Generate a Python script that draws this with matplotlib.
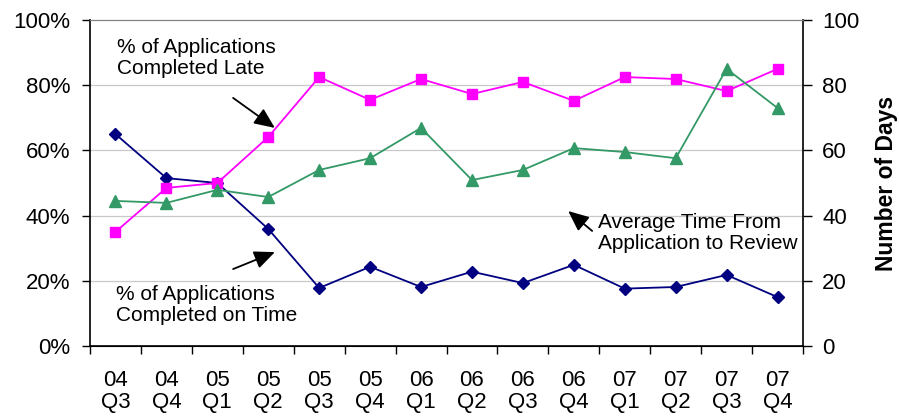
import matplotlib
matplotlib.use("Agg")
import matplotlib.pyplot as plt
from matplotlib.ticker import FixedLocator, NullFormatter

plt.rcParams['font.family'] = ['Liberation Sans', 'DejaVu Sans']

quarters = ["04\nQ3", "04\nQ4", "05\nQ1", "05\nQ2", "05\nQ3", "05\nQ4", "06\nQ1",
            "06\nQ2", "06\nQ3", "06\nQ4", "07\nQ1", "07\nQ2", "07\nQ3", "07\nQ4"]
pct_on_time = [65.0, 51.5, 50.0, 35.9, 17.8, 24.3, 18.1, 22.8, 19.3, 24.9, 17.6, 18.1, 21.8, 15.0]
pct_late = [35.0, 48.5, 50.0, 64.1, 82.5, 75.5, 81.9, 77.3, 81.0, 75.2, 82.5, 81.9, 78.2, 85.0]
avg_days = [44.5, 43.9, 47.9, 45.7, 54.0, 57.6, 66.9, 50.9, 54.0, 60.7, 59.5, 57.6, 85.0, 73.0]

fig = plt.figure(figsize=(8.99, 4.16), dpi=100)
ax = fig.add_axes([90/899, 1 - 346/416, 713/899, 326/416])
ax2 = ax.twinx()

x = list(range(len(quarters)))
ax.plot(x, pct_on_time, color="#000080", marker="D", markersize=6.5, lw=1.3, zorder=3)
ax.plot(x, pct_late, color="#FF00FF", marker="s", markersize=7.5, lw=1.3, zorder=3)
ax2.plot(x, avg_days, color="#339966", marker="^", markersize=9, lw=1.3, zorder=3)

ax.set_xlim(-0.5, len(quarters) - 0.5)
ax.set_ylim(0, 100)
ax2.set_ylim(0, 100)

ticks = [0, 20, 40, 60, 80, 100]
ax.set_yticks(ticks)
ax.set_yticklabels([f"{v}%" for v in ticks], fontsize=16)
ax2.set_yticks(ticks)
ax2.set_yticklabels([str(v) for v in ticks], fontsize=16)
ax2.set_ylabel("Number of Days", fontsize=16.5, fontweight="bold", labelpad=11)

ax.xaxis.set_major_locator(FixedLocator([i - 0.5 for i in range(len(quarters) + 1)]))
ax.xaxis.set_major_formatter(NullFormatter())
ax.xaxis.set_minor_locator(FixedLocator(x))
ax.set_xticklabels(quarters, minor=True, fontsize=16, linespacing=1.1)
ax.tick_params(axis="x", which="major", length=5.8, width=1, direction="out")
ax.tick_params(axis="x", which="minor", length=0, pad=17)
ax.tick_params(axis="y", length=5.8, width=1, direction="out", pad=8.5)
ax2.tick_params(axis="y", length=6.3, width=1, direction="out", pad=7.5)

for v in [20, 40, 60, 80]:
    ax.axhline(v, color="#c8c8c8", lw=0.9, zorder=1)

ax.spines["top"].set_color("#808080")
ax2.spines["top"].set_color("#808080")
ax.spines["right"].set_visible(False)
ax2.spines["left"].set_visible(False)
for sp in ["left", "bottom"]:
    ax.spines[sp].set_linewidth(1.2)
ax2.spines["right"].set_linewidth(1.2)

arrow = dict(arrowstyle="-|>,head_width=0.55,head_length=1.25", color="black", lw=1.3,
             shrinkA=0, shrinkB=0)
ax.text(0.03, 94.5, "% of Applications\nCompleted Late", fontsize=15, va="top", ha="left", linespacing=1.15)
ax.annotate("", xy=(3.13, 66.9), xytext=(2.31, 76.1), arrowprops=arrow)

ax.text(0.01, 18.7, "% of Applications\nCompleted on Time", fontsize=15, va="top", ha="left", linespacing=1.15)
ax.annotate("", xy=(3.13, 28.8), xytext=(2.31, 23.6), arrowprops=arrow)

ax.text(9.47, 40.8, "Average Time From\nApplication to Review", fontsize=15, va="top", ha="left", linespacing=1.15)
ax.annotate("", xy=(8.89, 41.4), xytext=(9.36, 35.3), arrowprops=arrow)

fig.savefig("out.png", dpi=100)
